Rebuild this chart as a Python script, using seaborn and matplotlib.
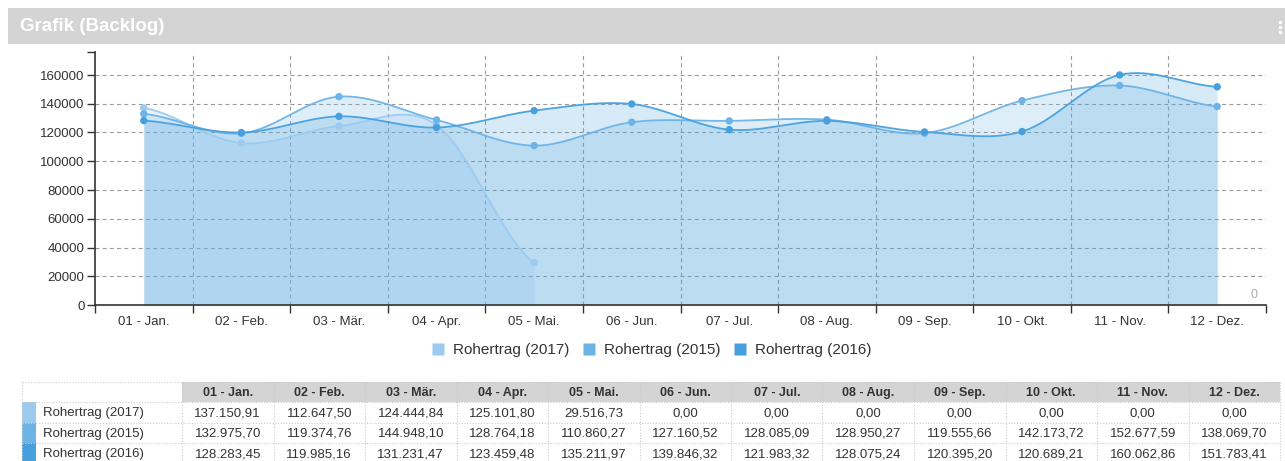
import numpy as np
import pandas as pd
import matplotlib
matplotlib.use("Agg")
import matplotlib.pyplot as plt
import seaborn as sns
from matplotlib.patches import Rectangle
from matplotlib.lines import Line2D

# ---------------- data ----------------
months = ["01 - Jan.", "02 - Feb.", "03 - Mär.", "04 - Apr.", "05 - Mai.", "06 - Jun.",
          "07 - Jul.", "08 - Aug.", "09 - Sep.", "10 - Okt.", "11 - Nov.", "12 - Dez."]
series_names = ["Rohertrag (2017)", "Rohertrag (2015)", "Rohertrag (2016)"]
r2017 = [137150.91, 112647.50, 124444.84, 125101.80, 29516.73, 0, 0, 0, 0, 0, 0, 0]
r2015 = [132975.70, 119374.76, 144948.10, 128764.18, 110860.27, 127160.52,
         128085.09, 128950.27, 119555.66, 142173.72, 152677.59, 138069.70]
r2016 = [128283.45, 119985.16, 131231.47, 123459.48, 135211.97, 139846.32,
         121983.32, 128075.24, 120395.20, 120689.21, 160062.86, 151783.41]
yticks = [0, 20000, 40000, 60000, 80000, 100000, 120000, 140000, 160000]
colors = ["#9ccbef", "#6cb3e6", "#45a0dd"]

# ---------------- style ----------------
sns.set_style("white")
plt.rcParams["font.family"] = ["Liberation Sans", "DejaVu Sans"]
TXT = "#333333"

W, H = 1285, 461
fig = plt.figure(figsize=(W / 100, H / 100), dpi=100)


def fx(px):
    return px / W


def fy(py):
    return 1 - py / H


# title bar
fig.patches.append(Rectangle((fx(8), fy(44)), fx(W - 8), 36 / H, transform=fig.transFigure,
                             facecolor="#d4d4d4", edgecolor="none", zorder=0))
fig.text(fx(20), fy(26.5), "Grafik (Backlog)", color="white", fontsize=13.5, fontweight="bold",
         va="center", ha="left")
for yy in (21, 26, 31):
    fig.patches.append(Rectangle((fx(1279), fy(yy + 3)), fx(3), 3 / H, transform=fig.transFigure,
                                 facecolor="white", edgecolor="none", zorder=1))

# ---------------- chart ----------------
ax = fig.add_axes([fx(95), fy(305), fx(1266 - 95), (305 - 52) / H])
YMAX = 176000


def cardinal(xs, ys, n=40):
    xs = np.asarray(xs, float)
    ys = np.asarray(ys, float)
    k = len(ys)
    yp = np.concatenate([[ys[0]], ys, [ys[-1]]])
    out_x, out_y = [], []
    for i in range(k - 1):
        p0, p1 = yp[i + 1], yp[i + 2]
        m0 = (yp[i + 2] - yp[i]) / 2
        m1 = (yp[i + 3] - yp[i + 1]) / 2
        t = np.linspace(0, 1, n)
        h00 = 2 * t**3 - 3 * t**2 + 1
        h10 = t**3 - 2 * t**2 + t
        h01 = -2 * t**3 + 3 * t**2
        h11 = t**3 - t**2
        out_y.append(h00 * p0 + h10 * m0 + h01 * p1 + h11 * m1)
        out_x.append(xs[i] + t * (xs[i + 1] - xs[i]))
    return np.concatenate(out_x), np.concatenate(out_y)


rows = []
for name, vals in zip(series_names, [r2017, r2015, r2016]):
    vals = np.asarray(vals, float)
    n = len(vals)
    if name.endswith("(2017)"):
        n = int(np.max(np.nonzero(vals > 0)[0])) + 1
    for i in range(n):
        rows.append({"series": name, "x": i + 0.5, "value": vals[i]})
df = pd.DataFrame(rows)

for name, c in zip(series_names, colors):
    d = df[df.series == name]
    sx, sy = cardinal(d.x.values, d.value.values)
    ax.fill_between(sx, sy, 0, color=c, alpha=0.22, lw=0, zorder=2)
    ax.plot(sx, sy, color=c, lw=1.3, alpha=0.95, zorder=3)

sns.scatterplot(data=df, x="x", y="value", hue="series", palette=dict(zip(series_names, colors)),
                s=28, edgecolor="none", legend=False, ax=ax, zorder=5)

ax.set_xlim(0, 12)
ax.set_ylim(0, YMAX)
for i in range(1, 12):
    ax.axvline(i, color="#999999", lw=0.8, ls=(0, (3.5, 3)), zorder=1)
for v in yticks[1:]:
    ax.axhline(v, color="#999999", lw=0.8, ls=(0, (3.5, 3)), zorder=1)

ax.set_xticks(range(13))
ax.set_xticklabels([""] * 13)
ax.set_xticks(np.arange(12) + 0.5, minor=True)
ax.set_xticklabels(months, minor=True)
ax.set_yticks(yticks + [YMAX])
ax.set_yticklabels([str(v) for v in yticks] + [""])
ax.tick_params(axis="x", which="major", length=6, width=1, color=TXT, direction="out", bottom=True)
ax.tick_params(axis="x", which="minor", length=0, pad=8, labelsize=9.5, labelcolor=TXT)
ax.tick_params(axis="y", length=6, width=1, color=TXT, direction="out", pad=1.5,
               labelsize=9.5, labelcolor=TXT, left=True)
for s in ("top", "right"):
    ax.spines[s].set_visible(False)
for s in ("left", "bottom"):
    ax.spines[s].set_color(TXT)
    ax.spines[s].set_linewidth(1.2)
ax.set_xlabel("")
ax.set_ylabel("")
ax.text(0.993, 0.04, "0", transform=ax.transAxes, ha="right", va="center", color="#aaaaaa",
        fontsize=9)

handles = [Line2D([], [], marker="s", ls="none", markersize=8, markerfacecolor=c,
                  markeredgecolor="none") for c in colors]
fig.legend(handles, series_names, loc="center", bbox_to_anchor=(fx(651), fy(350)), ncol=3,
           frameon=False, fontsize=11, handletextpad=0.5, columnspacing=0.75,
           labelcolor=TXT, handlelength=1.0)

# ---------------- table ----------------
tab_left, lab_right, tab_right = 22, 182, 1280
col_w = (tab_right - lab_right) / 12
row_edges = [382, 402, 423, 443, 464]
fig.patches.append(Rectangle((fx(lab_right), fy(402)), fx(tab_right - lab_right), 20 / H,
                             transform=fig.transFigure, facecolor="#d4d4d4", edgecolor="none"))
for j, m in enumerate(months):
    fig.text(fx(lab_right + col_w * (j + 0.5)), fy(392.5), m, ha="center", va="center",
             fontsize=9, fontweight="bold", color=TXT)


def de_fmt(v):
    s = f"{v:,.2f}"
    return s.replace(",", "X").replace(".", ",").replace("X", ".")


for r, (name, vals, c) in enumerate(zip(series_names, [r2017, r2015, r2016], colors)):
    top, bot = row_edges[r + 1], row_edges[r + 2]
    yc = (top + bot) / 2 + 0.5
    fig.patches.append(Rectangle((fx(tab_left), fy(bot)), fx(14), (bot - top) / H,
                                 transform=fig.transFigure, facecolor=c, edgecolor="none"))
    fig.text(fx(43), fy(yc), name, ha="left", va="center", fontsize=9.5, color=TXT)
    for j, v in enumerate(vals):
        fig.text(fx(lab_right + col_w * (j + 0.5)), fy(yc), de_fmt(v), ha="center",
                 va="center", fontsize=9.5, color=TXT)

grid_kw = dict(color="#cccccc", lw=0.8, ls=(0, (1, 1.5)), transform=fig.transFigure)
for yy in row_edges[:4]:
    fig.lines.append(Line2D([fx(tab_left), fx(tab_right)], [fy(yy), fy(yy)], **grid_kw))
for xx in [tab_left, lab_right] + [lab_right + col_w * k for k in range(1, 13)]:
    fig.lines.append(Line2D([fx(xx), fx(xx)], [fy(382), fy(461)], **grid_kw))

fig.savefig("out.png", dpi=100)
